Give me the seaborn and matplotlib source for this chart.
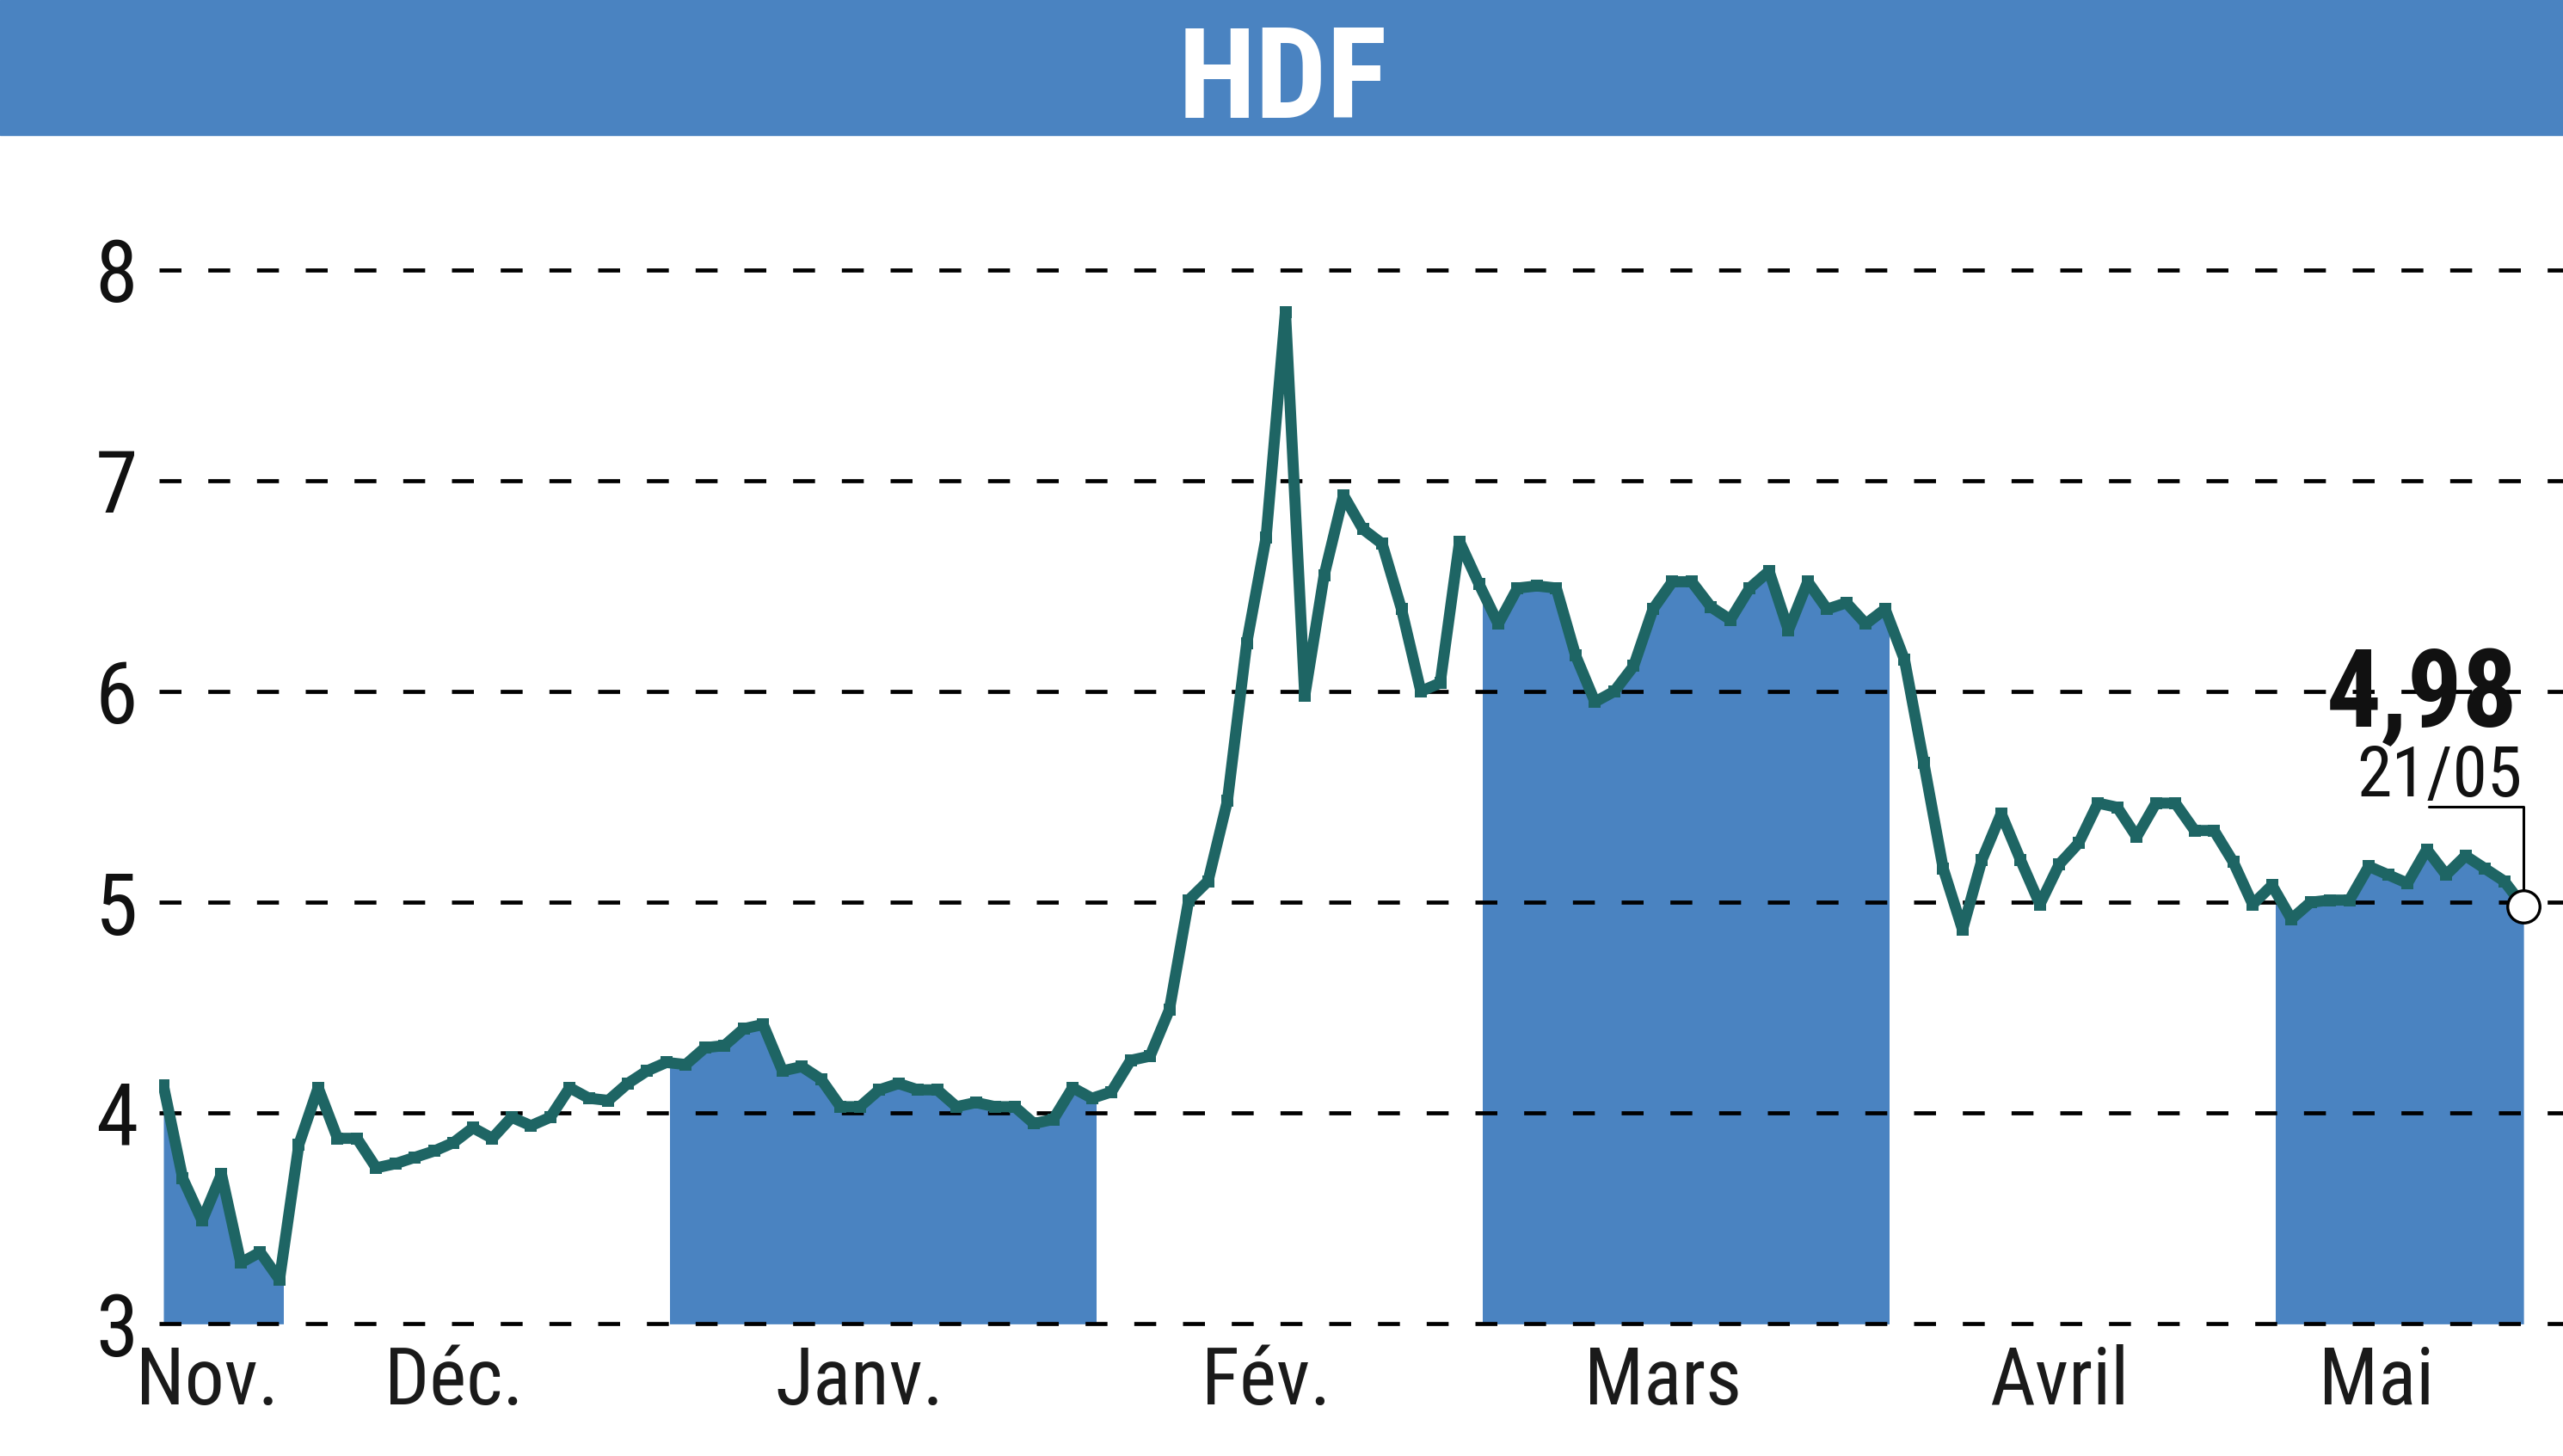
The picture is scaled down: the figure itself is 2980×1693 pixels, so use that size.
import os
import numpy as np
import pandas as pd
import seaborn as sns
import matplotlib.pyplot as plt
import matplotlib.font_manager as fm
from matplotlib.patches import Rectangle

# cours de cloture, un point par seance
nov = [4.13, 3.69, 3.49, 3.71, 3.29, 3.34, 3.21]
dec = [3.85, 4.12, 3.88, 3.88, 3.74, 3.76, 3.79, 3.82, 3.86, 3.93,
       3.88, 3.98, 3.94, 3.98, 4.12, 4.07, 4.06, 4.14, 4.20, 4.24]
jan = [4.23, 4.31, 4.32, 4.40, 4.42, 4.20, 4.22, 4.16, 4.03, 4.03, 4.11,
       4.14, 4.11, 4.11, 4.03, 4.05, 4.03, 4.03, 3.95, 3.97, 4.12, 4.07]
feb = [4.10, 4.25, 4.27, 4.49, 5.01, 5.10, 5.48, 6.23, 6.73, 7.80,
       5.98, 6.55, 6.93, 6.77, 6.70, 6.39, 6.00, 6.04, 6.71, 6.51]
mar = [6.32, 6.49, 6.50, 6.49, 6.17, 5.95, 6.00, 6.12, 6.39, 6.52, 6.52,
       6.40, 6.34, 6.49, 6.57, 6.29, 6.52, 6.39, 6.42, 6.32, 6.39]
apr = [6.15, 5.66, 5.16, 4.87, 5.20, 5.42, 5.20, 4.99, 5.18, 5.28,
       5.47, 5.45, 5.31, 5.47, 5.47, 5.34, 5.34, 5.19, 4.99, 5.08]
may = [4.92, 5.00, 5.01, 5.01, 5.17, 5.13, 5.09, 5.25, 5.13, 5.22,
       5.16, 5.10, 4.98]

months = ['Nov.', 'Déc.', 'Janv.', 'Fév.', 'Mars', 'Avril', 'Mai']
yticks = [3, 4, 5, 6, 7, 8]
title = 'HDF'
last_value = '4,98'
last_date = '21/05'

series = [nov, dec, jan, feb, mar, apr, may]
values = np.concatenate(series)
n = len(values)
df = pd.DataFrame({'jour': np.arange(n), 'cours': values})

counts = [len(s) for s in series]
starts = np.concatenate([[0], np.cumsum(counts)[:-1]])

blue = '#4a83c1'
teal = '#1e6564'


# police etroite : on cherche un fichier "condensed"/"narrow" installe
def pick_font(names, size):
    files = {os.path.basename(f.fname).lower(): f.fname
             for f in fm.fontManager.ttflist}
    for nm in names:
        if nm in files:
            return fm.FontProperties(fname=files[nm], size=size)
    return fm.FontProperties(family='DejaVu Sans', size=size)


regular = ['notosans-condensed.ttf', 'liberationsansnarrow-regular.ttf',
           'robotocondensed-regular.ttf', 'opensans_condensed-regular.ttf',
           'dejavusanscondensed.ttf', 'notosans-semicondensed.ttf']
bold = ['notosans-condensedbold.ttf', 'liberationsansnarrow-bold.ttf',
        'robotocondensed-bold.ttf', 'opensans_condensed-bold.ttf',
        'dejavusanscondensed-bold.ttf', 'notosans-semicondensedbold.ttf']

sns.set_style('white')
plt.rcParams['font.family'] = ['DejaVu Sans']

fig = plt.figure(figsize=(29.8, 16.93), dpi=100)
ax = fig.add_axes([0.0621, 0.0835, 0.9379, 0.7892])

xmin, xmax = -0.22, n - 1 + 2.04
ax.set_xlim(xmin, xmax)
ax.set_ylim(2.95, 8.4)

# limites des mois (un peu avant la premiere seance du mois)
bounds = [xmin] + [s - 0.8 for s in starts[1:]] + [n - 1]

# zones bleues un mois sur deux
for i in range(0, len(months), 2):
    poly = ax.fill_between(df['jour'], df['cours'], 3, color=blue,
                           linewidth=0, zorder=1)
    clip = Rectangle((bounds[i], 2), bounds[i + 1] - bounds[i], 10,
                     transform=ax.transData)
    poly.set_clip_path(clip)

for y in yticks:
    ax.axhline(y, color='black', linewidth=3.4, linestyle=(0, (5.4, 6.6)),
               zorder=2, clip_on=False)

sns.lineplot(data=df, x='jour', y='cours', ax=ax, color=teal,
             marker='s', zorder=3)
courbe = ax.lines[-1]
courbe.set_linewidth(9.3)
courbe.set_markersize(10.5)
courbe.set_markeredgewidth(0)
courbe.set_markerfacecolor(teal)
courbe.set_solid_joinstyle('round')

# dernier cours
ax.plot(n - 1, values[-1], 'o', ms=27, mfc='white', mec='black',
        mew=2.4, zorder=5, clip_on=False)
ax.annotate('', xy=(n - 1, values[-1]), xytext=(-110, 116),
            textcoords='offset pixels',
            arrowprops=dict(arrowstyle='-', color='black', lw=2.2,
                            connectionstyle='angle,angleA=0,angleB=90,rad=0',
                            shrinkA=0, shrinkB=13.5), zorder=4)
ax.annotate(last_value, xy=(n - 1, values[-1]), xytext=(-7, 209),
            textcoords='offset pixels', ha='right', va='baseline',
            fontproperties=pick_font(bold, 91), color='#111111')
ax.annotate(last_date, xy=(n - 1, values[-1]), xytext=(-1, 128),
            textcoords='offset pixels', ha='right', va='baseline',
            fontproperties=pick_font(regular, 59), color='#111111')

# axes
label_pos = [(bounds[i] + bounds[i + 1]) / 2 - 1.2 for i in range(len(months))]
label_pos[0] += 0.5
ax.set_xticks(label_pos)
ax.set_xticklabels(months, color='#1a1a1a')
ax.set_yticks(yticks)
ax.set_yticklabels([str(t) for t in yticks], color='#111111')
for lbl in ax.get_xticklabels():
    lbl.set_fontproperties(pick_font(regular, 66))
for lbl in ax.get_yticklabels():
    lbl.set_fontproperties(pick_font(regular, 72))
ax.tick_params(axis='x', length=0, pad=8)
ax.tick_params(axis='y', length=0, pad=18)
ax.set_xlabel('')
ax.set_ylabel('')
sns.despine(ax=ax, left=True, bottom=True)

# bandeau titre
fig.add_artist(Rectangle((0, 1 - 157 / 1693), 1, 157 / 1693,
                         transform=fig.transFigure, color=blue, zorder=0))
fig.text(0.5005, 1 - 137 / 1693, title, ha='center', va='baseline',
         fontproperties=pick_font(bold, 106), color='white')

fig.savefig('out.png', dpi=100)
